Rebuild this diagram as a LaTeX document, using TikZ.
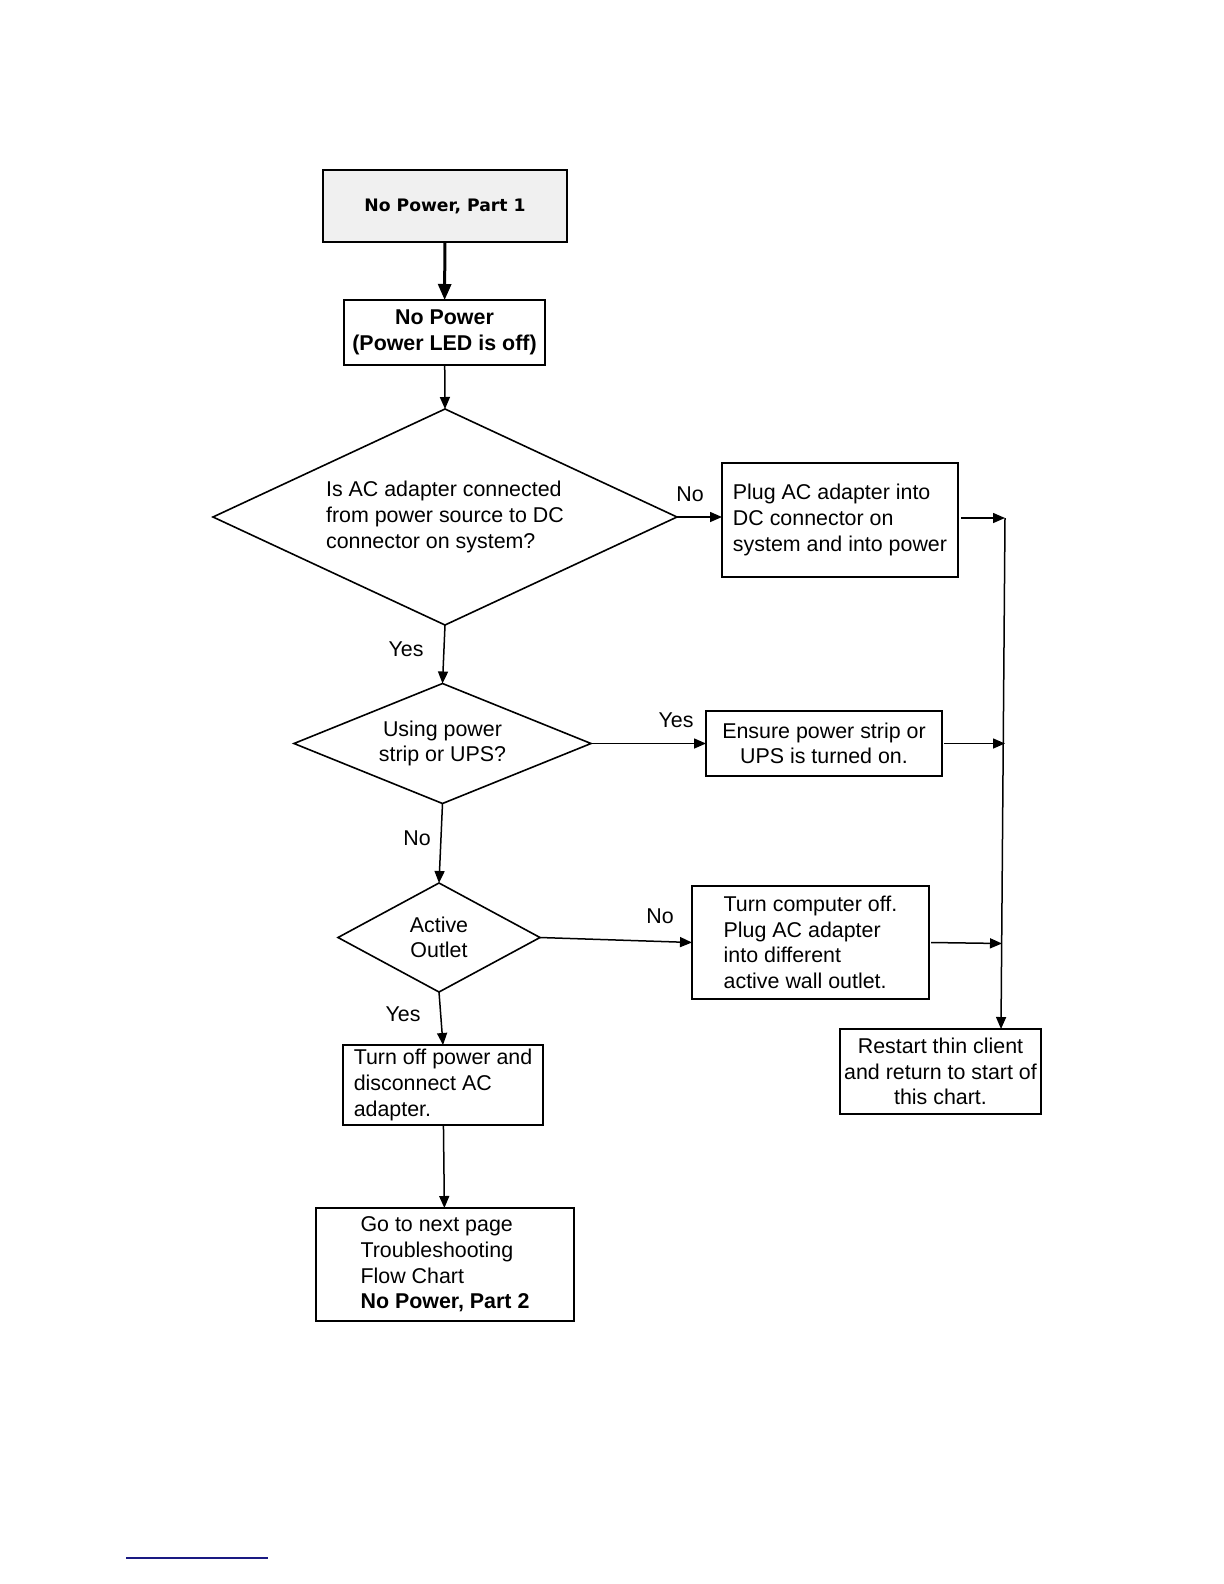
\documentclass[tikz,border=0pt]{standalone}
\usepackage{fontspec}
\setmainfont{Liberation Sans}
\newfontfamily\titlefont{DejaVu Sans}
\usetikzlibrary{shapes.geometric}
\usetikzlibrary{arrows.meta}
\newcommand{\chartfont}{\fontsize{10.7}{12.8}\selectfont}
\definecolor{startgray}{gray}{0.94}
\definecolor{rulenavy}{RGB}{25,25,130}
\tikzstyle{flowbox}=[draw, line width=0.8pt, inner sep=0, outer sep=0, align=left, font=\chartfont]
\tikzstyle{decision}=[flowbox, diamond, aspect=2]
\tikzstyle{flow}=[line width=0.75pt, -{Triangle[length=6pt, width=5pt]}]
\tikzstyle{answer}=[inner sep=0, font=\chartfont]
\tikzstyle{flowchart}=[x=0.5pt, y=-0.5pt,
                       % Arrows stop on the box border.
                       every node/.append style={outer sep=0}]

\begin{document}
\begin{tikzpicture}[flowchart]
        \useasboundingbox (0, 0) rectangle (1224, 1584);
        \node[flowbox, fill=startgray, minimum width=122pt, minimum height=36pt,
              font=\titlefont\fontsize{8.6}{10}\selectfont\bfseries] (start) at (445, 206) {No Power, Part 1};
        \node[flowbox, align=center, minimum width=100.5pt, minimum height=32.5pt,
              font=\chartfont\bfseries] (nopower) at (444.5, 332.5) {No Power\\(Power LED is off)};
        \node[decision, minimum width=232pt, minimum height=108pt] (acq) at (445, 517)
            {Is AC adapter connected\\from power source to DC\\connector on system?};
        \node[flowbox, minimum width=118pt, minimum height=57pt] (plug) at (840, 520)
            {Plug AC adapter into\\DC connector on\\system and into power};
        \node[decision, align=center, minimum width=148.5pt, minimum height=60pt] (upsq) at (442.5, 743.5)
            {Using power\\strip or UPS?};
        \node[flowbox, align=center, minimum width=118pt, minimum height=32.5pt] (ensure) at (824, 743.5)
            {Ensure power strip or\\UPS is turned on.};
        \node[decision, align=center, minimum width=101pt, minimum height=54.5pt] (outletq) at (439, 937.5)
            {Active\\Outlet};
        \node[flowbox, minimum width=118.5pt, minimum height=56.5pt] (replug) at (810.5, 942.5)
            {Turn computer off.\\Plug AC adapter\\into different\\active wall outlet.};
        \node[flowbox, align=center, minimum width=100.5pt, minimum height=42.5pt] (restart) at (940.5, 1071.5)
            {Restart thin client\\and return to start of\\this chart.};
        \node[flowbox, minimum width=100pt, minimum height=40pt] (unplug) at (443, 1085)
            {Turn off power and\\disconnect AC\\adapter.};
        \node[flowbox, minimum width=129pt, minimum height=56.5pt] (nextpage) at (445, 1264.5)
            {Go to next page\\Troubleshooting\\Flow Chart\\\textbf{No Power, Part 2}};
        \node[answer] (acno) at (690, 494) {No};
        \node[answer] (acyes) at (406, 649) {Yes};
        \node[answer] (upsyes) at (676, 720) {Yes};
        \node[answer] (upsno) at (417, 838) {No};
        \node[answer] (outletno) at (660, 916) {No};
        \node[answer] (outletyes) at (403, 1014) {Yes};
        \coordinate (bustop) at (1005, 518);
        \coordinate (busend) at (1001, 1029);
        \draw[line width=1.5pt, -{Triangle[length=8pt, width=6.5pt]}] (start) -- (nopower);
        \draw[flow] (nopower) -- (acq.north);
        \draw[flow] (acq.east) -- (acq.east -| plug.west);
        \draw[flow] (acq.south) -- (upsq.north);
        \draw[flow] (upsq.east) -- (upsq.east -| ensure.west);
        \draw[flow] (upsq.south) -- (outletq.north);
        \draw[flow] (outletq.east) -- (replug.west);
        \draw[flow] (outletq.south) -- (unplug.north);
        \draw[flow] (unplug) -- (nextpage);
        \draw[flow] ([xshift=1.5pt]plug.east |- bustop) -- (bustop);
        \draw[flow] ([xshift=1pt]ensure.east) -- (ensure.east -| bustop);
        \draw[flow] ([xshift=1pt]replug.east) -- ++(71, 1);
        \draw[flow] (bustop) -- (busend);
        \draw[rulenavy, line width=1pt] (126, 1558) -- (268, 1558);
    \end{tikzpicture}
\end{document}
